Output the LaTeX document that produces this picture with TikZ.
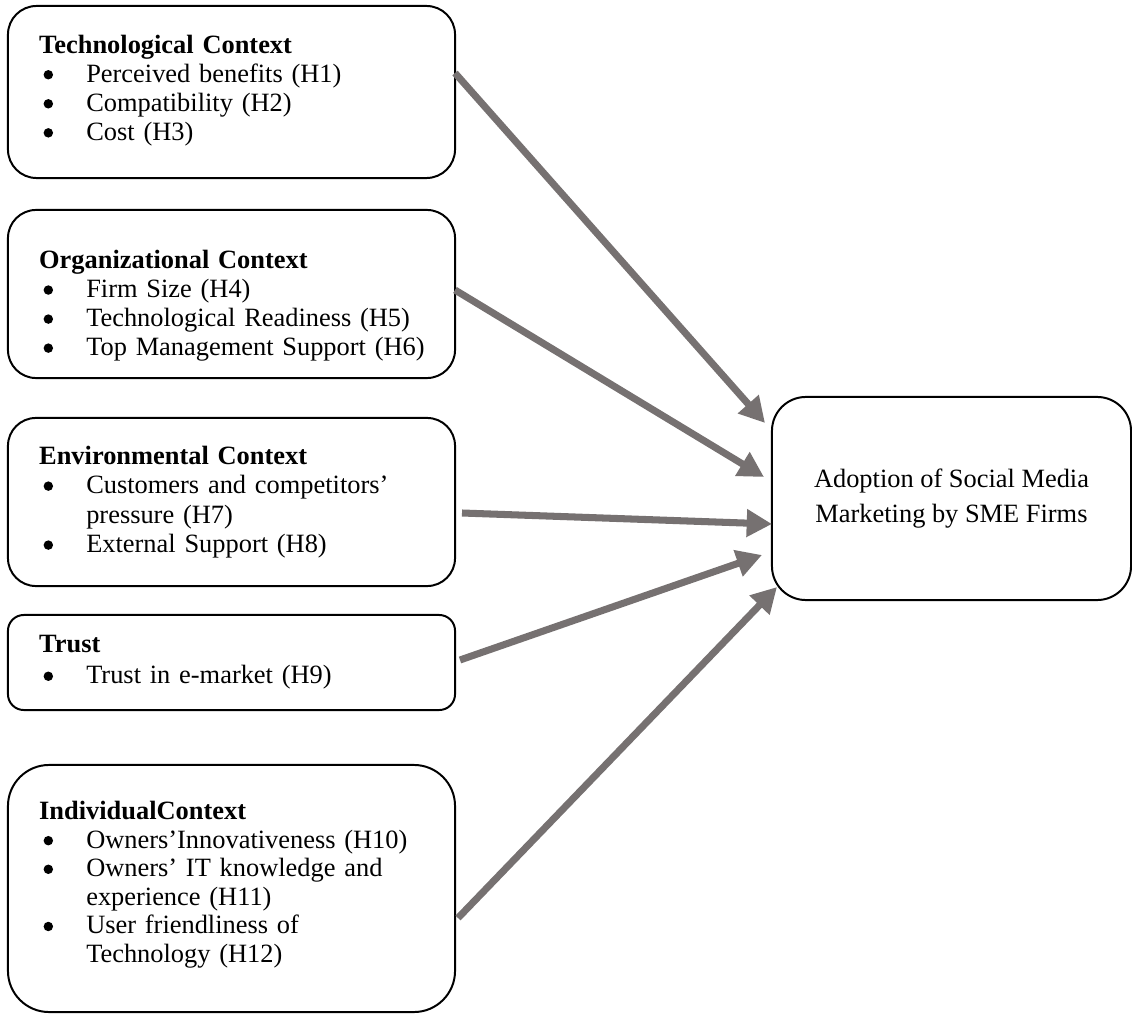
\documentclass[tikz,border=0pt]{standalone}
\usepackage{fontspec}
\setmainfont{Liberation Serif}
\usetikzlibrary{arrows.meta}
\definecolor{arrowgrey}{RGB}{118,113,113}
\newcommand{\bdot}{\tikz[baseline=-3.4pt]\fill (0,0) circle (2.15pt);}
\newcommand{\bitem}[1]{\mbox{\hspace*{2pt}\makebox[19.4pt][l]{\bdot}#1}}
\newcommand{\bcont}[1]{\mbox{\hspace*{21.4pt}#1}}

\begin{document}
\begin{tikzpicture}[
    x=0.4545pt, y=-0.4545pt,
    ctx/.style={draw, line width=0.9pt, align=left, text width=174.8pt, inner xsep=14.1pt, minimum width=203.2pt},
    goal/.style={draw, line width=0.9pt, align=center, minimum width=163.2pt, minimum height=92.3pt, rounded corners=15.4pt, font=\fontsize{12}{16}\selectfont},
    link/.style={-{Triangle[length=11.5pt,width=12pt]}, line width=3.2pt, draw=arrowgrey}
    ]
\useasboundingbox (0,0) rectangle (1132,1015);

% context boxes
\node[ctx, minimum height=78.2pt, rounded corners=13pt, font=\fontsize{12}{13.2}\selectfont] (tech) at (231.5,92) {\textbf{Technological Context}\\
  \bitem{Perceived benefits (H1)}\\
  \bitem{Compatibility (H2)}\\
  \bitem{Cost (H3)}\rule[-4pt]{0pt}{0pt}};
\node[ctx, minimum height=76.4pt, rounded corners=12.8pt, font=\fontsize{12}{13.2}\selectfont] (org) at (231.5,294) {\rule{0pt}{19pt}\textbf{Organizational Context}\\
  \bitem{Firm Size (H4)}\\
  \bitem{Technological Readiness (H5)}\\
  \bitem{Top Management Support (H6)}};
\node[ctx, minimum height=76.4pt, rounded corners=12.7pt, font=\fontsize{12}{13.4}\selectfont] (env) at (231.5,502) {\textbf{Environmental Context}\\
  \bitem{Customers and competitors’}\\
  \bcont{pressure (H7)}\\
  \bitem{External Support (H8)}};
\node[ctx, minimum height=43.2pt, rounded corners=7.2pt, font=\fontsize{12}{14}\selectfont] (trust) at (231.5,662.5) {\textbf{Trust}\\
  \bitem{Trust in e-market (H9)}};
\node[ctx, minimum height=112.3pt, rounded corners=18.7pt, font=\fontsize{12}{13}\selectfont] (indiv) at (231.5,888.5) {\textbf{IndividualContext}\\
  \bitem{Owners’Innovativeness (H10)}\\
  \bitem{Owners’ IT knowledge and}\\
  \bcont{experience (H11)}\\
  \bitem{User friendliness of}\\
  \bcont{Technology (H12)}\rule[-6pt]{0pt}{0pt}};

% outcome
\node[goal] (adopt) at (951.5,498.5) {Adoption of Social Media\\ Marketing by SME Firms};

% arrow ends
\coordinate (s1) at (455,73);
\coordinate (s2) at (455,290);
\coordinate (s3) at (462,513);
\coordinate (s4) at (460,660);
\coordinate (s5) at (458,918);
\coordinate (e1) at (765,423);
\coordinate (e2) at (764,477);
\coordinate (e3) at (772,524);
\coordinate (e4) at (762,555);
\coordinate (e5) at (777,587);

\path (s1) edge[link] (e1);
\path (s2) edge[link] (e2);
\path (s3) edge[link] (e3);
\path (s4) edge[link] (e4);
\path (s5) edge[link] (e5);
\end{tikzpicture}
\end{document}
